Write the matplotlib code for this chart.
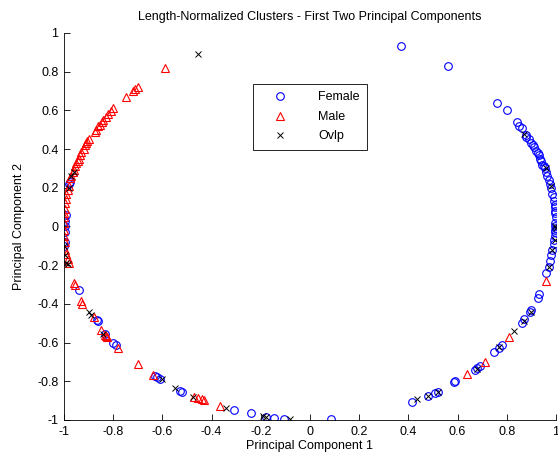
import matplotlib
matplotlib.use("Agg")
import matplotlib.pyplot as plt
from matplotlib.ticker import FuncFormatter

plt.rcParams['font.family'] = ['Liberation Sans', 'DejaVu Sans']
plt.rcParams['axes.unicode_minus'] = False

# Female (blue circles)
female_x = [0.37, 0.56, 0.76, 0.80, 0.84, 0.85, 0.86, 0.88, 0.88, 0.89, 0.90, 0.905, 0.91, 0.92,
            0.925, 0.93, 0.935, 0.94, 0.945, 0.95, 0.955, 0.96, 0.965, 0.97, 0.975, 0.98, 0.985,
            0.99, 0.99, 0.995, 0.995, 0.997, 0.998, 0.999,
            0.995, 0.998, 0.999, 0.997, 0.996, 0.995, 0.993, 0.99, 0.985, 0.98, 0.975, 0.97, 0.96,
            0.93, 0.925, 0.90, 0.895, 0.87, 0.86, 0.78, 0.77, 0.75, 0.69, 0.68, 0.67, 0.59, 0.585,
            0.52, 0.51, 0.48, 0.415,
            0.085, -0.105, -0.145, -0.18, -0.24, -0.31, -0.52, -0.53,
            -0.62, -0.63, -0.61, -0.79, -0.80, -0.86, -0.865, -0.835, -0.94,
            -0.995, -0.997, -0.995, -0.998, -0.99, -0.98, -0.975, -0.997]
female_y = [0.93, 0.83, 0.64, 0.60, 0.54, 0.52, 0.51, 0.47, 0.46, 0.45, 0.43, 0.42, 0.41, 0.39,
            0.38, 0.37, 0.35, 0.34, 0.32, 0.31, 0.30, 0.28, 0.26, 0.24, 0.22, 0.20, 0.17,
            0.15, 0.13, 0.11, 0.10, 0.08, 0.07, 0.05,
            0.02, 0.0, -0.01, -0.02, -0.03, -0.05, -0.07, -0.09, -0.12, -0.15, -0.18, -0.21, -0.24,
            -0.35, -0.37, -0.43, -0.44, -0.48, -0.50, -0.61, -0.63, -0.65, -0.72, -0.73, -0.74, -0.80, -0.805,
            -0.855, -0.86, -0.875, -0.905,
            -0.995, -0.995, -0.99, -0.985, -0.965, -0.95, -0.855, -0.85,
            -0.78, -0.775, -0.79, -0.61, -0.60, -0.49, -0.485, -0.555, -0.33,
            0.03, 0.0, -0.08, -0.10, 0.06, 0.22, 0.23, -0.03]

# Male (red triangles)
male_x = [-0.59, -0.70, -0.71, -0.72, -0.75, -0.80, -0.81, -0.82, -0.83, -0.84, -0.845, -0.855,
          -0.86, -0.87, -0.875, -0.90, -0.905, -0.91, -0.915, -0.92, -0.93, -0.935, -0.94, -0.945,
          -0.95, -0.955, -0.96, -0.965, -0.97, -0.975, -0.98, -0.985, -0.99, -0.992, -0.995, -0.997,
          -0.998, -0.999, -0.999, -0.999, -0.998, -0.997, -0.995, -0.99, -0.985, -0.98,
          -0.96, -0.955, -0.93, -0.925, -0.88, -0.85, -0.835, -0.83, -0.825, -0.78, -0.70, -0.64,
          -0.455, -0.44, -0.43, -0.47, -0.365,
          0.96, 0.81, 0.71, 0.64]
male_y = [0.82, 0.72, 0.71, 0.70, 0.67, 0.61, 0.595, 0.58, 0.565, 0.55, 0.54, 0.525,
          0.52, 0.50, 0.49, 0.45, 0.44, 0.43, 0.42, 0.40, 0.385, 0.37, 0.35, 0.34,
          0.33, 0.31, 0.29, 0.28, 0.26, 0.25, 0.21, 0.19, 0.17, 0.14, 0.12, 0.09,
          0.07, 0.05, 0.02, -0.02, -0.05, -0.08, -0.12, -0.14, -0.17, -0.19,
          -0.29, -0.30, -0.385, -0.40, -0.47, -0.535, -0.56, -0.565, -0.57, -0.63, -0.71, -0.765,
          -0.885, -0.89, -0.895, -0.88, -0.93,
          -0.28, -0.57, -0.70, -0.76]

# Overlap (black crosses)
ovlp_x = [-0.455, -0.96, -0.97, -0.98, -0.998, -0.997, -0.99, -0.985, -0.90, -0.89, -0.84, -0.60,
          -0.55, -0.475, -0.34, -0.19, -0.18, -0.08, 0.435, 0.48, 0.52, 0.68, 0.77, 0.83, 0.87,
          0.90, 0.97, 0.985, 0.995, 0.999, 0.996, 0.98, 0.87, 0.96]
ovlp_y = [0.89, 0.28, 0.26, 0.20, -0.10, -0.15, -0.19, -0.195, -0.44, -0.46, -0.555, -0.79,
          -0.835, -0.88, -0.94, -0.98, -0.985, -0.995, -0.89, -0.875, -0.855, -0.735, -0.625, -0.54, -0.49,
          -0.44, -0.21, -0.12, -0.07, -0.01, 0.0, 0.21, 0.48, 0.30]

fig = plt.figure(figsize=(5.58, 4.57), dpi=100)
ax = fig.add_axes([0.1147, 0.081, 0.8817, 0.847])

ax.plot(female_x, female_y, 'o', linestyle='none', markerfacecolor='none',
        markeredgecolor='blue', markersize=5.5, markeredgewidth=0.8, label='Female')
ax.plot(male_x, male_y, '^', linestyle='none', markerfacecolor='none',
        markeredgecolor='red', markersize=5.5, markeredgewidth=0.8, label='Male')
ax.plot(ovlp_x, ovlp_y, 'x', linestyle='none', color='black',
        markersize=4.5, markeredgewidth=0.7, label='Ovlp')

ax.set_xlim(-1, 1)
ax.set_ylim(-1, 1)
ax.set_xticks([-1, -0.8, -0.6, -0.4, -0.2, 0, 0.2, 0.4, 0.6, 0.8, 1])
ax.set_yticks([-1, -0.8, -0.6, -0.4, -0.2, 0, 0.2, 0.4, 0.6, 0.8, 1])
fmt = FuncFormatter(lambda v, p: '%g' % round(v, 2))
ax.xaxis.set_major_formatter(fmt)
ax.yaxis.set_major_formatter(fmt)
ax.tick_params(direction='in', length=4, width=0.6, labelsize=9, pad=4)
ax.spines['top'].set_visible(False)
ax.spines['right'].set_visible(False)
ax.spines['left'].set_linewidth(0.6)
ax.spines['bottom'].set_linewidth(0.6)

ax.set_title('Length-Normalized Clusters - First Two Principal Components', fontsize=9, pad=9)
ax.set_xlabel('Principal Component 1', fontsize=9, labelpad=2)
ax.set_ylabel('Principal Component 2', fontsize=9, labelpad=9)

leg = ax.legend(loc='upper left', bbox_to_anchor=(0.384, 0.868), fontsize=9,
                fancybox=False, framealpha=1, edgecolor='black', borderpad=0.6,
                handlelength=3.2, handletextpad=1.4, labelspacing=0.6, borderaxespad=0)
leg.get_frame().set_linewidth(0.6)

fig.savefig('out.png', dpi=100)
